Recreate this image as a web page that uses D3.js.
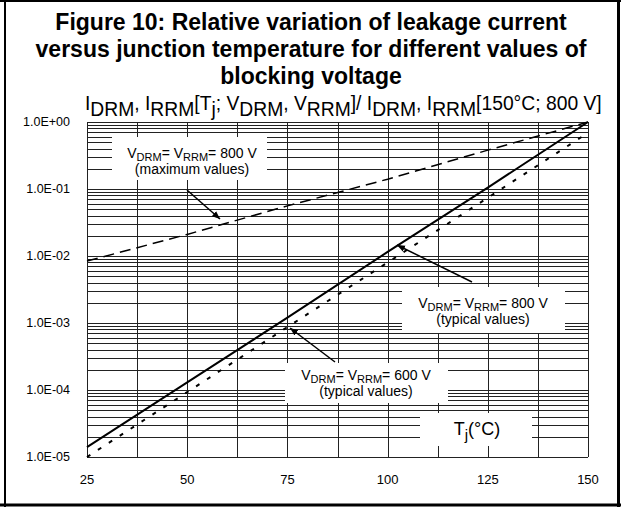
<!DOCTYPE html>
<html>
<head>
<meta charset="utf-8">
<script src="https://cdn.jsdelivr.net/npm/d3@7"></script>
<style>
  body { margin: 0; background: #fff; }
  svg { display: block; font-family: "Liberation Sans", Arial, sans-serif; }
</style>
</head>
<body>
<div id="chart"></div>
<script>
// values
var temps = [25, 50, 75, 100, 125, 150];
var maxValues800 = [0.0084, 0.021, 0.056, 0.14, 0.38, 1.0];
var typValues800 = [1.4e-5, 1.3e-4, 1.2e-3, 1.15e-2, 0.105, 1.0];
var typValues600 = [1.0e-5, 9.3e-5, 8.7e-4, 8.0e-3, 0.074, 0.69];

var xTicks = [25, 50, 75, 100, 125, 150];
var yTicks = [1e0, 1e-1, 1e-2, 1e-3, 1e-4, 1e-5];
var yTickLabels = ["1.0E+00", "1.0E-01", "1.0E-02", "1.0E-03", "1.0E-04", "1.0E-05"];
var titleLines = [
  "Figure 10: Relative variation of leakage current",
  "versus junction temperature for different values of",
  "blocking voltage"
];

var width = 621, height = 507;
var plotLeft = 87, plotRight = 588, plotTop = 122, plotBottom = 457;

var svg = d3.select("#chart").append("svg")
    .attr("width", width)
    .attr("height", height);

var x = d3.scaleLinear().domain([25, 150]).range([plotLeft, plotRight]);
var y = d3.scaleLog().domain([1e-5, 1]).range([plotBottom, plotTop]);

/* outer frame */
svg.append("line").attr("x1", 5).attr("x2", 5).attr("y1", 0).attr("y2", height)
    .attr("stroke", "#000").attr("stroke-width", 2);
svg.append("line").attr("x1", 0).attr("x2", width).attr("y1", 1).attr("y2", 1)
    .attr("stroke", "#000").attr("stroke-width", 2);
svg.append("line").attr("x1", 618.5).attr("x2", 618.5).attr("y1", 0).attr("y2", height)
    .attr("stroke", "#000").attr("stroke-width", 3);
svg.append("line").attr("x1", 0).attr("x2", width).attr("y1", 505).attr("y2", 505)
    .attr("stroke", "#000").attr("stroke-width", 3);

/* title */
svg.append("g").selectAll("text")
    .data(titleLines)
    .enter().append("text")
    .attr("x", 311)
    .attr("y", function(d, i) { return 30 + i * 27; })
    .attr("text-anchor", "middle")
    .attr("font-weight", "bold")
    .attr("font-size", 23)
    .text(function(d) { return d; });

// writes text with subscript parts: [string, isSub]
function richText(sel, parts, subSize) {
  parts.forEach(function(p) {
    var t = sel.append("tspan").text(p[0]);
    if (p[1]) t.attr("font-size", subSize).attr("baseline-shift", "-30%");
  });
}

/* grid */
var grid = svg.append("g").attr("stroke", "#222").attr("stroke-width", 1)
    .attr("shape-rendering", "crispEdges");
var minor = [];
for (var e = -5; e < 0; e++) {
  for (var k = 1; k < 10; k++) minor.push(k * Math.pow(10, e));
}
minor.push(1);
grid.selectAll(".h").data(minor).enter().append("line")
    .attr("x1", plotLeft).attr("x2", plotRight)
    .attr("y1", function(d) { return Math.round(y(d)) + 0.5; })
    .attr("y2", function(d) { return Math.round(y(d)) + 0.5; });
grid.selectAll(".v").data(d3.range(25, 150.1, 12.5)).enter().append("line")
    .attr("y1", plotTop).attr("y2", plotBottom)
    .attr("x1", function(d) { return Math.round(x(d)) + 0.5; })
    .attr("x2", function(d) { return Math.round(x(d)) + 0.5; });

/* axis tick labels */
svg.append("g").selectAll("text").data(yTicks).enter().append("text")
    .attr("x", 70).attr("y", function(d) { return y(d) + 4; })
    .attr("text-anchor", "end").attr("font-size", 12.5)
    .text(function(d, i) { return yTickLabels[i]; });
svg.append("g").selectAll("text").data(xTicks).enter().append("text")
    .attr("x", function(d) { return x(d); }).attr("y", 484)
    .attr("text-anchor", "middle").attr("font-size", 13)
    .text(function(d) { return d; });

/* label boxes (white cut-outs in the grid) */
var boxes = [
  { x0: 112, x1: 267, y0: 137, y1: 180 },
  { x0: 402, x1: 565, y0: 287, y1: 333 },
  { x0: 285, x1: 448, y0: 363, y1: 403 },
  { x0: 420, x1: 532, y0: 413, y1: 446 }
];
svg.append("g").selectAll("rect").data(boxes).enter().append("rect")
    .attr("x", function(d) { return d.x0; }).attr("y", function(d) { return d.y0; })
    .attr("width", function(d) { return d.x1 - d.x0; })
    .attr("height", function(d) { return d.y1 - d.y0; })
    .attr("fill", "#fff");

/* curves */
var line = d3.line()
    .x(function(d) { return x(d[0]); })
    .y(function(d) { return y(d[1]); });
var curves = svg.append("g").attr("fill", "none").attr("stroke", "#000");
curves.append("path")
    .attr("d", line(d3.zip(temps, maxValues800)))
    .attr("stroke-width", 1.5).attr("stroke-dasharray", "11,6");
curves.append("path")
    .attr("d", line(d3.zip(temps, typValues800)))
    .attr("stroke-width", 2);
curves.append("path")
    .attr("d", line(d3.zip(temps, typValues600)))
    .attr("stroke-width", 2).attr("stroke-dasharray", "4,9");

/* arrows */
svg.append("defs").append("marker")
    .attr("id", "arr")
    .attr("viewBox", "0 -5 10 10")
    .attr("refX", 10).attr("refY", 0)
    .attr("markerWidth", 8).attr("markerHeight", 8)
    .attr("markerUnits", "userSpaceOnUse")
    .attr("orient", "auto")
    .append("path").attr("d", "M0,-4L10,0L0,4Z").attr("fill", "#000");
var arrows = [[187, 190, 220, 219], [472, 282, 397, 245], [335, 362, 290, 328]];
svg.append("g").selectAll("line").data(arrows).enter().append("line")
    .attr("x1", function(d) { return d[0]; }).attr("y1", function(d) { return d[1]; })
    .attr("x2", function(d) { return d[2]; }).attr("y2", function(d) { return d[3]; })
    .attr("stroke", "#000").attr("stroke-width", 1.5)
    .attr("marker-end", "url(#arr)");

/* annotations */
function voltLabel(cx, yy, volt, note) {
  var t = svg.append("text").attr("x", cx).attr("y", yy)
      .attr("text-anchor", "middle").attr("font-size", 14);
  richText(t, [["V", 0], ["DRM", 1], ["= V", 0], ["RRM", 1], ["= " + volt + " V", 0]], 11);
  svg.append("text").attr("x", cx).attr("y", yy + 16)
      .attr("text-anchor", "middle").attr("font-size", 14).text(note);
}
voltLabel(192, 158, 800, "(maximum values)");
voltLabel(483, 308, 800, "(typical values)");
voltLabel(366, 380, 600, "(typical values)");

var tj = svg.append("text").attr("x", 477).attr("y", 435)
    .attr("text-anchor", "middle").attr("font-size", 18);
richText(tj, [["T", 0], ["j", 1], ["(°C)", 0]], 15);

/* y axis header */
var hdr = svg.append("text").attr("x", 85).attr("y", 110).attr("font-size", 19.3);
richText(hdr, [
  ["I", 0], ["DRM", 1], [", I", 0], ["RRM", 1], ["[T", 0], ["j", 1], ["; V", 0],
  ["DRM", 1], [", V", 0], ["RRM", 1], ["]/ I", 0], ["DRM", 1], [", I", 0], ["RRM", 1],
  ["[150°C; 800 V]", 0]
], 19.3);
</script>
</body>
</html>
